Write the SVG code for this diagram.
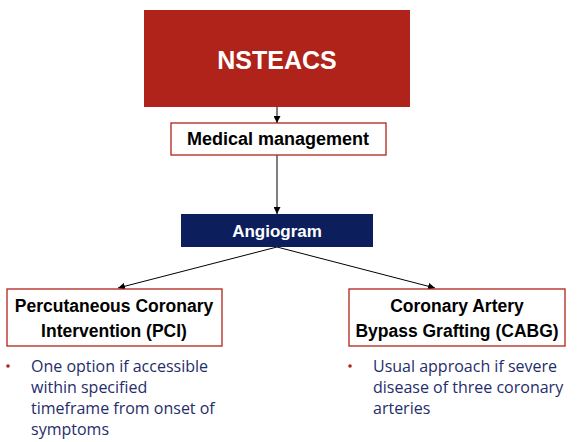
<svg xmlns="http://www.w3.org/2000/svg" width="580" height="442" viewBox="0 0 580 442">
<style>
.t{font-family:"Liberation Sans",Arial,sans-serif;font-weight:bold;text-anchor:middle}
.box{fill:#fff;stroke:#B0231A;stroke-width:1.3}
.b{font-family:"Open Sans","Liberation Sans",Arial,sans-serif;font-size:16px;fill:#1F2D6B}
.c{stroke:#000;stroke-width:1;fill:none;marker-end:url(#ah)}
.dot{fill:#B0231A}
</style>
<defs>
<marker id="ah" viewBox="0 0 10 10" refX="10" refY="5" markerWidth="7" markerHeight="7" orient="auto" markerUnits="userSpaceOnUse">
<path d="M0,0 L10,5 L0,10 z" fill="#000"/>
</marker>
</defs>
<rect width="580" height="442" fill="#fff"/>
<g id="connectors">
<line class="c" x1="277" y1="107" x2="277" y2="123"/>
<line class="c" x1="277" y1="155" x2="277" y2="214"/>
<line class="c" x1="277" y1="247" x2="118" y2="288"/>
<line class="c" x1="277" y1="247" x2="435" y2="288"/>
</g>
<g id="nsteacs">
<rect x="144" y="10" width="266" height="97" fill="#B0231A"/>
<text class="t" x="277" y="69" font-size="25" fill="#fff">NSTEACS</text>
</g>
<g id="medical">
<rect class="box" x="171" y="123" width="215" height="32"/>
<text class="t" x="278" y="145" font-size="18" fill="#000">Medical management</text>
</g>
<g id="angiogram">
<rect x="181" y="214" width="192" height="33" fill="#0C1F5C"/>
<text class="t" x="277" y="237" font-size="17" fill="#fff">Angiogram</text>
</g>
<g id="pci">
<rect class="box" x="7" y="289" width="215" height="57"/>
<text class="t" x="114" y="312" font-size="17.5" fill="#000">Percutaneous Coronary</text>
<text class="t" x="114" y="337" font-size="17.5" fill="#000">Intervention (PCI)</text>
</g>
<g id="cabg">
<rect class="box" x="349" y="289" width="216" height="57"/>
<text class="t" x="457" y="312" font-size="17.5" fill="#000">Coronary Artery</text>
<text class="t" x="457" y="337" font-size="17.5" fill="#000">Bypass Grafting (CABG)</text>
</g>
<g id="pci-notes">
<circle class="dot" cx="8" cy="366" r="1.8"/>
<text class="b" x="31" y="372">One option if accessible</text>
<text class="b" x="31" y="393">within specified</text>
<text class="b" x="31" y="414">timeframe from onset of</text>
<text class="b" x="31" y="435">symptoms</text>
</g>
<g id="cabg-notes">
<circle class="dot" cx="350" cy="366" r="1.8"/>
<text class="b" x="373" y="372">Usual approach if severe</text>
<text class="b" x="373" y="393">disease of three coronary</text>
<text class="b" x="373" y="414">arteries</text>
</g>
</svg>
